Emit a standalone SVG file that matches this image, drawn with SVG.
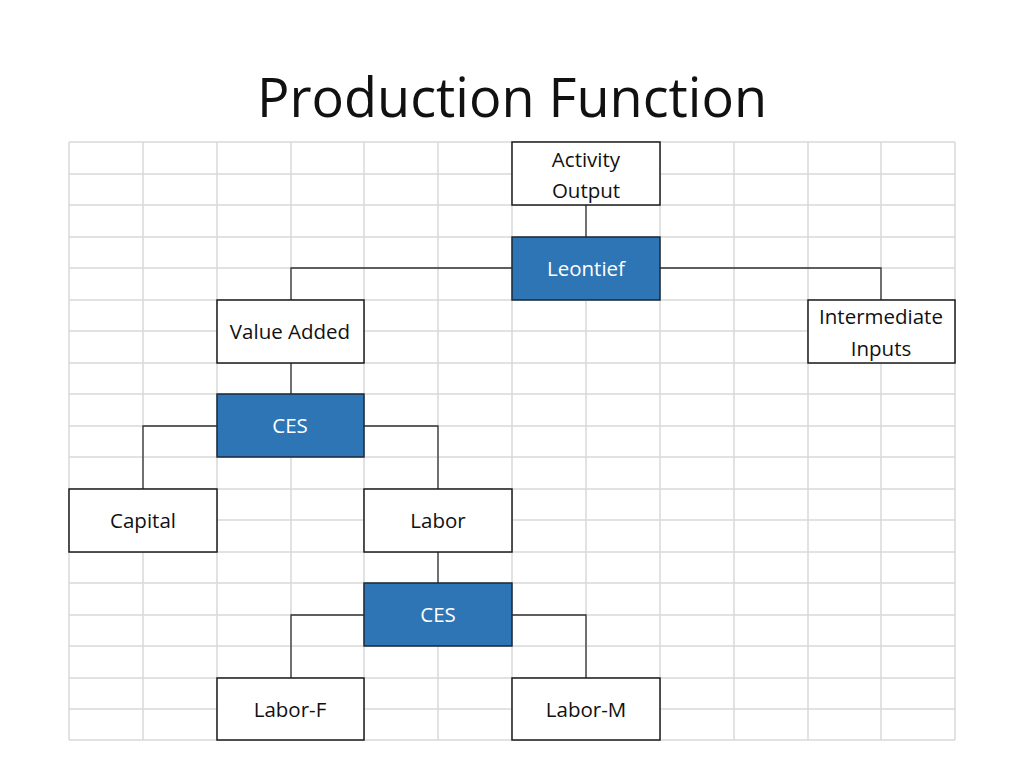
<svg xmlns="http://www.w3.org/2000/svg" width="1024" height="768" viewBox="0 0 1024 768">
<style>
.grid line{stroke:#d9d9d9;stroke-width:1.5}
.box{fill:#ffffff;stroke:#1a1a1a;stroke-width:1.5}
.op{fill:#2e75b6;stroke:#1a2a3a;stroke-width:1.5}
.t{font-family:"Open Sans","Noto Sans",sans-serif;font-size:20.5px;fill:#111;text-anchor:middle}
.tw{font-family:"Open Sans","Noto Sans",sans-serif;font-size:20.5px;fill:#ffffff;text-anchor:middle}
.conn path{fill:none;stroke:#333;stroke-width:1.3}
</style>
<rect width="1024" height="768" fill="#ffffff"/>
<text x="512" y="117" font-family="Open Sans, Noto Sans, sans-serif" font-size="54" fill="#111" text-anchor="middle">Production Function</text>
<g class="grid">
<line x1="69" y1="142" x2="69" y2="740"/><line x1="143" y1="142" x2="143" y2="740"/><line x1="217" y1="142" x2="217" y2="740"/><line x1="291" y1="142" x2="291" y2="740"/><line x1="364" y1="142" x2="364" y2="740"/><line x1="438" y1="142" x2="438" y2="740"/><line x1="512" y1="142" x2="512" y2="740"/><line x1="586" y1="142" x2="586" y2="740"/><line x1="660" y1="142" x2="660" y2="740"/><line x1="734" y1="142" x2="734" y2="740"/><line x1="808" y1="142" x2="808" y2="740"/><line x1="881" y1="142" x2="881" y2="740"/><line x1="955" y1="142" x2="955" y2="740"/>
<line x1="69" y1="142" x2="955" y2="142"/><line x1="69" y1="174" x2="955" y2="174"/><line x1="69" y1="205" x2="955" y2="205"/><line x1="69" y1="237" x2="955" y2="237"/><line x1="69" y1="268" x2="955" y2="268"/><line x1="69" y1="300" x2="955" y2="300"/><line x1="69" y1="331" x2="955" y2="331"/><line x1="69" y1="363" x2="955" y2="363"/><line x1="69" y1="394" x2="955" y2="394"/><line x1="69" y1="426" x2="955" y2="426"/><line x1="69" y1="457" x2="955" y2="457"/><line x1="69" y1="489" x2="955" y2="489"/><line x1="69" y1="520" x2="955" y2="520"/><line x1="69" y1="552" x2="955" y2="552"/><line x1="69" y1="583" x2="955" y2="583"/><line x1="69" y1="615" x2="955" y2="615"/><line x1="69" y1="646" x2="955" y2="646"/><line x1="69" y1="678" x2="955" y2="678"/><line x1="69" y1="709" x2="955" y2="709"/><line x1="69" y1="740" x2="955" y2="740"/>
</g>
<g class="conn">
<path d="M586 205V237"/>
<path d="M512 268H291V300"/>
<path d="M660 268H881V300"/>
<path d="M291 363V394"/>
<path d="M217 426H143V489"/>
<path d="M364 426H438V489"/>
<path d="M438 552V583"/>
<path d="M364 615H291V678"/>
<path d="M512 615H586V678"/>
</g>
<g id="activity-output"><rect class="box" x="512" y="142" width="148" height="63"/><text class="t" x="586" y="167">Activity</text><text class="t" x="586" y="198">Output</text></g>
<g id="leontief"><rect class="op" x="512" y="237" width="148" height="63"/><text class="tw" x="586" y="276">Leontief</text></g>
<g id="value-added"><rect class="box" x="217" y="300" width="147" height="63"/><text class="t" x="290" y="339">Value Added</text></g>
<g id="intermediate-inputs"><rect class="box" x="808" y="300" width="147" height="63"/><text class="t" x="881" y="324">Intermediate</text><text class="t" x="881" y="356">Inputs</text></g>
<g id="ces-1"><rect class="op" x="217" y="394" width="147" height="63"/><text class="tw" x="290" y="433">CES</text></g>
<g id="capital"><rect class="box" x="69" y="489" width="148" height="63"/><text class="t" x="143" y="528">Capital</text></g>
<g id="labor"><rect class="box" x="364" y="489" width="148" height="63"/><text class="t" x="438" y="528">Labor</text></g>
<g id="ces-2"><rect class="op" x="364" y="583" width="148" height="63"/><text class="tw" x="438" y="622">CES</text></g>
<g id="labor-f"><rect class="box" x="217" y="678" width="147" height="62"/><text class="t" x="290" y="717">Labor-F</text></g>
<g id="labor-m"><rect class="box" x="512" y="678" width="148" height="62"/><text class="t" x="586" y="717">Labor-M</text></g>
</svg>
